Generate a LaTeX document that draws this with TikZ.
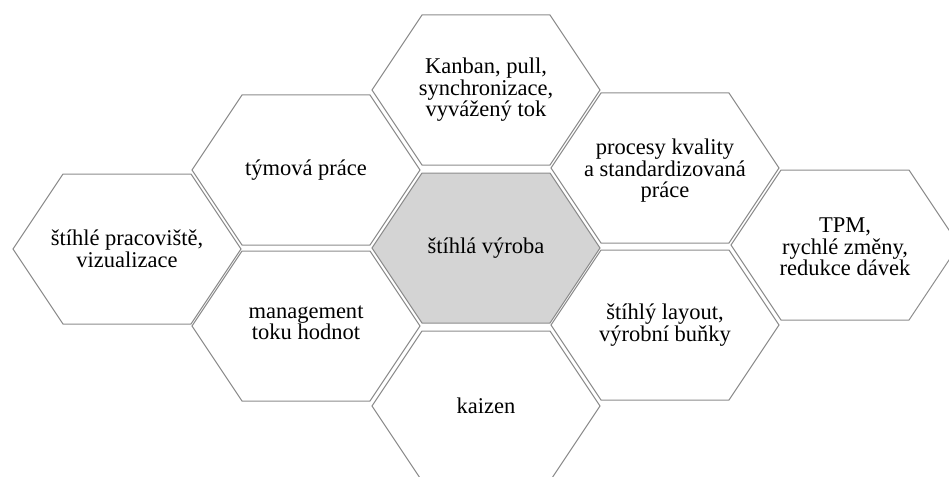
\documentclass[tikz,border=0pt]{standalone}
\usepackage{fontspec}
\setmainfont{Liberation Serif}
\begin{document}
\begin{tikzpicture}
		[x=1pt,y=-1pt,
		 hexline/.style={draw=black!45,line width=1pt},
		 hexlabel/.style={align=center,inner sep=0pt,font=\fontsize{22.5}{21.5}\selectfont}]

        \clip (0,0) rectangle (949,476);

        \coordinate (H1) at (127,249);
        \coordinate (H2) at (306,170);
        \coordinate (H3) at (306,326);
        \coordinate (H4) at (486,90);
        \coordinate (H5) at (486,248);
        \coordinate (H6) at (486,406);
        \coordinate (H7) at (665,168);
        \coordinate (H8) at (665,325);
        \coordinate (H9) at (845,245);

        \foreach \hex in {H1,H2,H3,H4,H6,H7,H8,H9}  {
            \draw[hexline,shift={(\hex)}] (-114,0) -- (-64,-75) -- (64,-75) -- (114,0) -- (64,75) -- (-64,75) -- cycle;
        }
        \filldraw[hexline,fill=black!17,shift={(H5)}] (-114,0) -- (-64,-75) -- (64,-75) -- (114,0) -- (64,75) -- (-64,75) -- cycle;

        \node[hexlabel] (workplace) at (H1) {štíhlé pracoviště,\\vizualizace};
        \node[hexlabel] (teamwork) at (H2) {týmová práce};
        \node[hexlabel] (vsm) at ([yshift=3]H3) {management\\toku hodnot};
        \node[hexlabel] (kanban) at (H4) {Kanban, pull,\\synchronizace,\\vyvážený tok};
        \node[hexlabel] (lean) at (H5) {štíhlá výroba};
        \node[hexlabel] (kaizen) at (H6) {kaizen};
        \node[hexlabel] (quality) at ([yshift=-3]H7) {procesy kvality\\a standardizovaná\\práce};
        \node[hexlabel] (layout) at (H8) {štíhlý layout,\\výrobní buňky};
        \node[hexlabel] (tpm) at ([yshift=-2]H9) {TPM,\\rychlé změny,\\redukce dávek};

    \end{tikzpicture}
\end{document}
